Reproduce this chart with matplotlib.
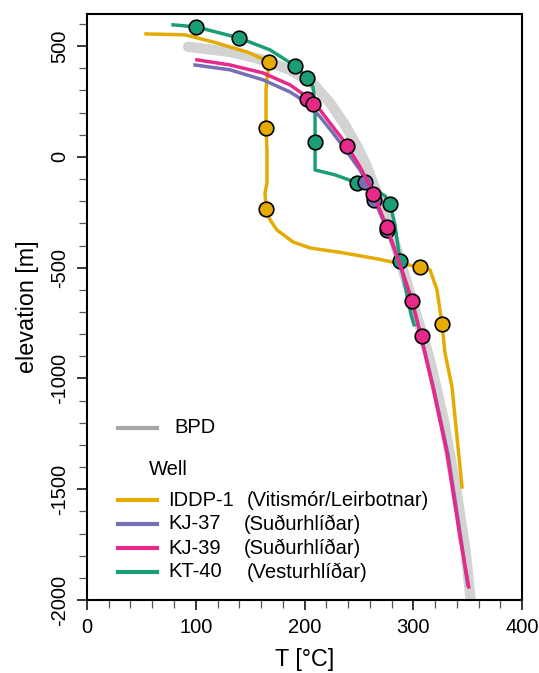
import matplotlib
matplotlib.use("Agg")
import matplotlib.pyplot as plt
import numpy as np

plt.rcParams['font.family'] = ['Liberation Sans', 'DejaVu Sans']
plt.rcParams['axes.unicode_minus'] = False

# boiling point with depth curve
bpd_t = [93, 131.5, 161.8, 186.7, 207.8, 223.4, 237.2, 249.2, 256.6, 264.8, 276.8, 287.8, 298.9, 315.4, 328, 339.5, 348, 352.5, 354]
bpd_z = [497, 474, 438, 393, 330, 244, 144, 41, -36, -140, -293, -465, -646, -917, -1187, -1503, -1774, -1987, -2050]

# IDDP-1
iddp_t = [54.3, 90.1, 115.8, 147, 167.4, 166.4, 165.5, 164.6, 164.6, 164.6, 165.5, 165.5, 163.7, 164.6,
          168.3, 174.7, 189.4, 205.1, 235.4, 267.6, 285.1, 306.2, 315.4, 321.8, 326.4, 329.2, 335.6, 340.2, 344.8]
iddp_z = [555, 551, 519, 474, 429, 384, 352, 302, 212, 131, 32, -117, -163, -235,
          -284, -330, -384, -411, -433, -461, -479, -497, -510, -600, -754, -885, -1038, -1264, -1490]
iddp_pt_t = [167.4, 164.6, 164.6, 306.2, 326.4]
iddp_pt_z = [429, 131, -235, -497, -754]

# KJ-37
kj37_t = [99.3, 131.5, 161.8, 186.7, 202.3, 214.3, 226.2, 239.1, 251, 257.5, 264, 276, 288, 299, 308, 319, 332, 344, 350]
kj37_z = [415, 393, 348, 293, 244, 181, 108, 23, -59, -117, -190, -330, -492, -655, -826, -1052, -1345, -1729, -1932]
kj37_pt_t = [255.6, 264, 276]
kj37_pt_z = [-113, -194, -330]

# KJ-39
kj39_t = [101.1, 131.5, 161.8, 186.7, 202.3, 214.3, 226.2, 239.1, 251, 262, 276, 288, 299, 307, 318, 331, 343, 351]
kj39_z = [438, 415, 379, 325, 271, 212, 135, 54, -45, -149, -321, -488, -650, -808, -1038, -1337, -1716, -1941]
kj39_pt_t = [202, 208, 239, 263, 276, 299, 308]
kj39_pt_z = [262, 239, 50, -167, -316, -650, -808]

# KT-40
kt40_t = [79.1, 100.2, 139.8, 168.3, 191.3, 202.3, 207.8, 209.7, 209.7, 209.7, 228, 248.3, 262, 274, 278.6,
          283.2, 287.8, 293.3, 298, 300.7]
kt40_z = [596, 587, 537, 483, 411, 357, 316, 226, 68, -59, -81, -117, -140, -176, -212,
          -307, -470, -600, -713, -758]
kt40_pt_t = [100, 140, 191, 202, 210, 248, 279, 288]
kt40_pt_z = [587, 537, 411, 357, 68, -117, -212, -470]

wells = [
    ("IDDP-1", "(Vitismór/Leirbotnar)", "#e6ab02", iddp_t, iddp_z, iddp_pt_t, iddp_pt_z),
    ("KT-40", "(Vesturhlíðar)", "#1b9e77", kt40_t, kt40_z, kt40_pt_t, kt40_pt_z),
    ("KJ-37", "(Suðurhlíðar)", "#7570b3", kj37_t, kj37_z, kj37_pt_t, kj37_pt_z),
    ("KJ-39", "(Suðurhlíðar)", "#e7298a", kj39_t, kj39_z, kj39_pt_t, kj39_pt_z),
]

fig = plt.figure(figsize=(5.39, 6.73), dpi=100)
ax = fig.add_axes([0.1614, 0.1085, 0.8071, 0.8707])

ax.plot(bpd_t, bpd_z, color="#d3d3d3", lw=7.5, solid_capstyle="round", zorder=1)
for name, reg, col, t, z, pt, pz in wells:
    ax.plot(t, z, color=col, lw=2.5, zorder=2)
    ax.plot(pt, pz, "o", color=col, mec="black", mew=1.2, ms=10.5, zorder=2)

ax.set_xlim(0, 400)
ax.set_ylim(-2000, 645)
ax.set_xticks(np.arange(0, 401, 100))
ax.set_xticks(np.arange(0, 401, 20), minor=True)
ax.set_yticks(np.arange(-2000, 501, 500))
ax.set_yticks(np.arange(-2000, 601, 100), minor=True)
ax.tick_params(which="major", length=7, width=1.1, labelsize=14.5, pad=6)
ax.tick_params(which="minor", length=6, width=0.9, color="#555555")
for lab in ax.get_yticklabels():
    lab.set_rotation(90)
    lab.set_va("center")
for sp in ax.spines.values():
    sp.set_linewidth(1.5)

ax.set_xlabel("T [°C]", fontsize=16.8, labelpad=8)
ax.set_ylabel("elevation [m]", fontsize=16.8, labelpad=8)

# legend drawn by hand
ax.plot([0.071, 0.161], [0.2935, 0.2935], transform=ax.transAxes, color="#a6a6a6", lw=3)
ax.text(0.202, 0.2935, "BPD", transform=ax.transAxes, fontsize=14.5, va="center")
ax.text(0.1425, 0.222, "Well", transform=ax.transAxes, fontsize=14.5, va="center")
leg_y = [0.1706, 0.1297, 0.0887, 0.0478]
leg_order = ["IDDP-1", "KJ-37", "KJ-39", "KT-40"]
reg_x = {"IDDP-1": 0.368, "KJ-37": 0.361, "KJ-39": 0.361, "KT-40": 0.368}
lookup = {w[0]: w for w in wells}
for yy, nm in zip(leg_y, leg_order):
    _, reg, col, *_ = lookup[nm]
    ax.plot([0.071, 0.161], [yy, yy], transform=ax.transAxes, color=col, lw=3)
    ax.text(0.186, yy, nm, transform=ax.transAxes, fontsize=14.5, va="center")
    ax.text(reg_x[nm], yy, reg, transform=ax.transAxes, fontsize=14.5, va="center")

fig.savefig("out.png", dpi=100)
